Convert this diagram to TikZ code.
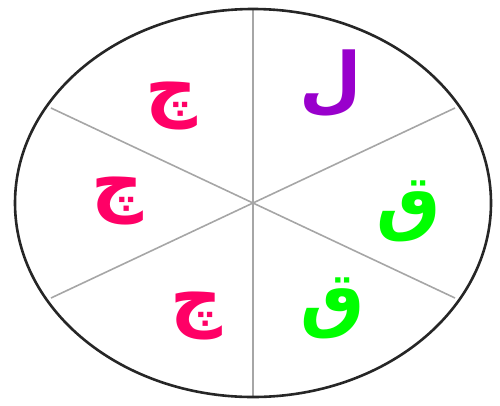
\documentclass[tikz,border=0pt]{standalone}
\usepackage{fontspec}
\usepackage{xcolor}
\usepackage{tikz}
\TeXXeTstate=1
\newfontfamily\arabicfont[Script=Arabic]{DejaVu Sans}
\definecolor{lpurple}{HTML}{9900CC}
\definecolor{lgreen}{HTML}{00FF00}
\definecolor{lpink}{HTML}{FF0066}
\tikzset{
  rim/.style={draw=black!85, line width=2.6pt},
  spoke/.style={draw=black!35, line width=1.6pt},
  letter/.style={font=\arabicfont\bfseries\fontsize{72}{78}\selectfont, inner sep=0pt},
}

\begin{document}
\begin{tikzpicture}[x=1pt,y=-1pt]
  \useasboundingbox (0,0) rectangle (500,405);

  \coordinate (c) at (253,203);

  % spokes
  \coordinate (n)  at (253,9);
  \coordinate (s)  at (253,397);
  \coordinate (ne) at (455,108);
  \coordinate (nw) at (51,108);
  \coordinate (se) at (455,298);
  \coordinate (sw) at (51,298);
  \foreach \p in {n,s,ne,nw,se,sw}
    \draw[spoke] (c) -- (\p);

  % rim
  \draw[rim] (c) ellipse [x radius=238, y radius=194];

  % letters
  \node[letter, lpurple] (lam)  at (331,84)  {\beginR ل\endR};
  \node[letter, lgreen]  (qaf1) at (409,211) {\beginR ق\endR};
  \node[letter, lgreen]  (qaf2) at (333,308) {\beginR ق\endR};
  \node[letter, lpink]   (che1) at (171,106) {\beginR چ\endR};
  \node[letter, lpink]   (che2) at (117,201) {\beginR چ\endR};
  \node[letter, lpink]   (che3) at (196,316) {\beginR چ\endR};

\end{tikzpicture}
\end{document}
